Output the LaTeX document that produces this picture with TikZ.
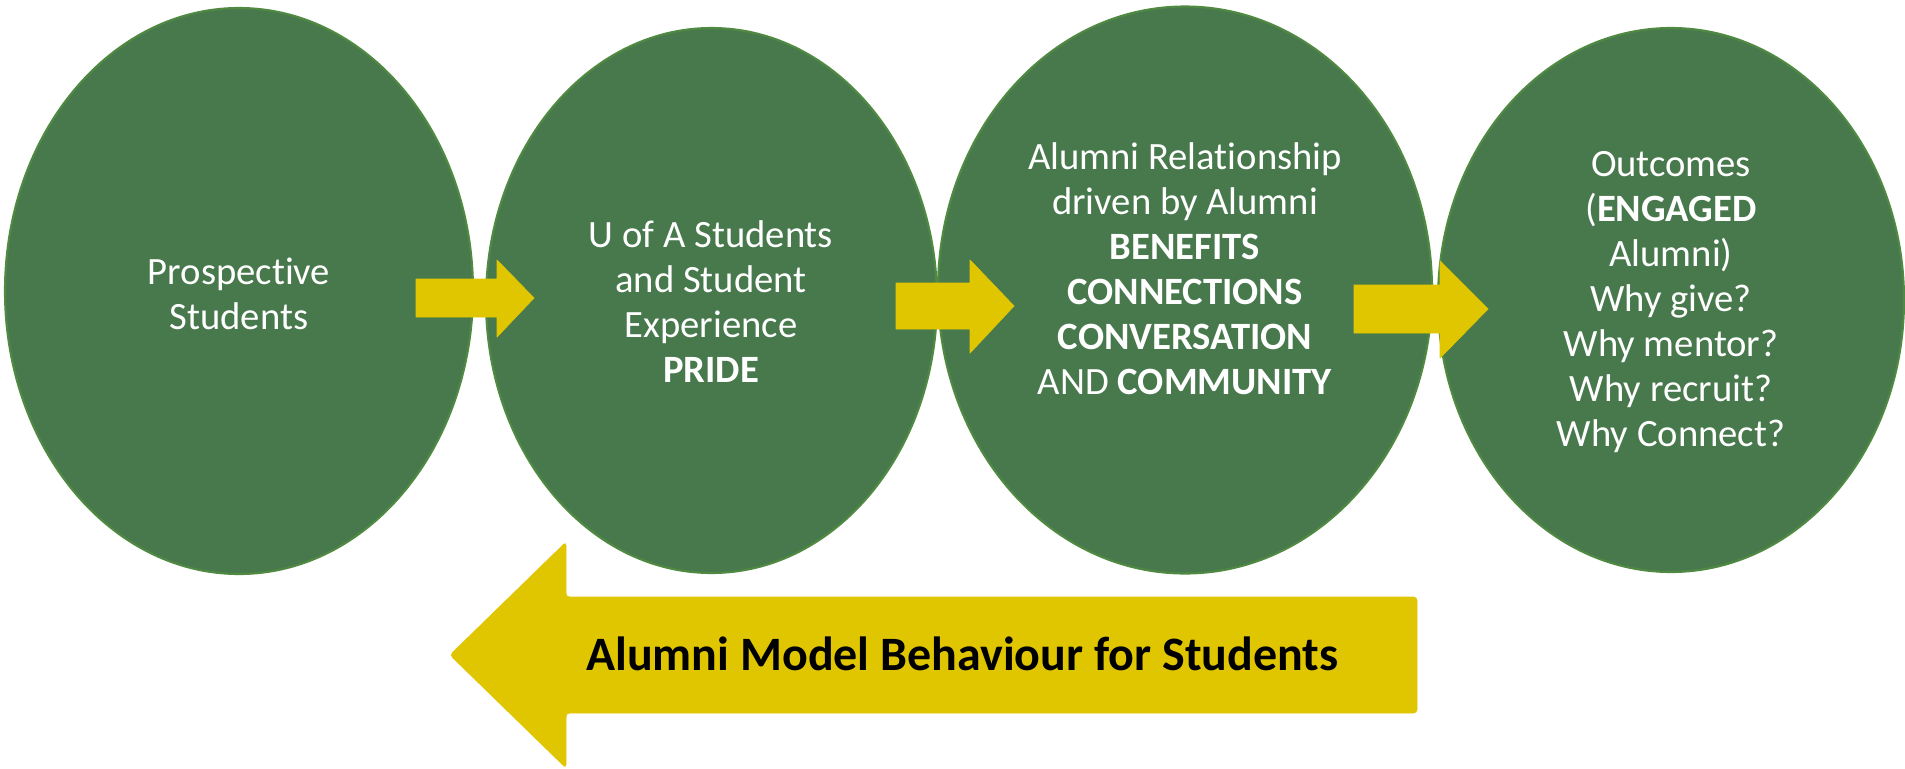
\documentclass[tikz,border=0pt]{standalone}
\usepackage{fontspec}
\setmainfont{Carlito}[Ligatures=NoCommon]
\usetikzlibrary{shapes.geometric}
\definecolor{circgreen}{RGB}{72,121,77}
\definecolor{circedge}{RGB}{80,138,66}
\definecolor{arrowyellow}{RGB}{224,198,0}
\tikzset{
  bubble/.style={ellipse, fill=circgreen, draw=circedge, line width=1.2pt, inner sep=0pt},
  bubbletext/.style={text=white, align=center, font=\fontsize{22}{25.6}\selectfont, inner sep=0pt},
  blockarrow/.style={fill=arrowyellow, draw=arrowyellow, line width=0.4pt, line join=round},
}
\begin{document}
\begin{tikzpicture}[x=0.02cm, y=-0.02cm]
\useasboundingbox (0,0) rectangle (1905,768);
% bubbles
\node[bubble, minimum width=468*0.02cm, minimum height=566*0.02cm] (e1) at (239,291) {};
\node[bubble, minimum width=451*0.02cm, minimum height=545*0.02cm] (e2) at (711.5,300.5) {};
\node[bubble, minimum width=494*0.02cm, minimum height=567*0.02cm] (e3) at (1185,290) {};
\node[bubble, minimum width=466*0.02cm, minimum height=544*0.02cm] (e4) at (1671,300) {};
% texts
\node[bubbletext] (t1) at (239,294) {Prospective\\Students};
\node[bubbletext] (t2) at (711,302) {U of A Students\\and Student\\Experience\\\textbf{PRIDE}};
\node[bubbletext] (t3) at (1185,269) {Alumni Relationship\\driven by Alumni\\\textbf{BENEFITS}\\\textbf{CONNECTIONS}\\\textbf{CONVERSATION}\\AND \textbf{COMMUNITY}};
\node[bubbletext] (t4) at (1671,302) {Outcomes\\(\textbf{ENGAGED}\\Alumni)\\Why give?\\Why mentor?\\Why recruit?\\Why Connect?};
% small arrows
\draw[blockarrow] (416,279) -- (497,279) -- (497,260) -- (534,298) -- (497,337) -- (497,317) -- (416,317) -- cycle;
\draw[blockarrow] (896,283) -- (970,283) -- (970,260) -- (1014,306) -- (970,353) -- (970,329) -- (896,329) -- cycle;
\draw[blockarrow] (1354,285) -- (1440,285) -- (1440,261) -- (1488,309) -- (1440,358) -- (1440,333) -- (1354,333) -- cycle;
% big arrow
\draw[blockarrow, rounded corners=2pt] (1417,597) -- (1417,713) -- (566,713) -- (566,768) -- (450,655) -- (566,542) -- (566,597) -- cycle;
\node[font=\fontsize{27.3}{32}\selectfont\bfseries, text=black, inner sep=0pt, anchor=base west] (bt) at (586,670) {Alumni Model Behaviour for Students};
\end{tikzpicture}
\end{document}
